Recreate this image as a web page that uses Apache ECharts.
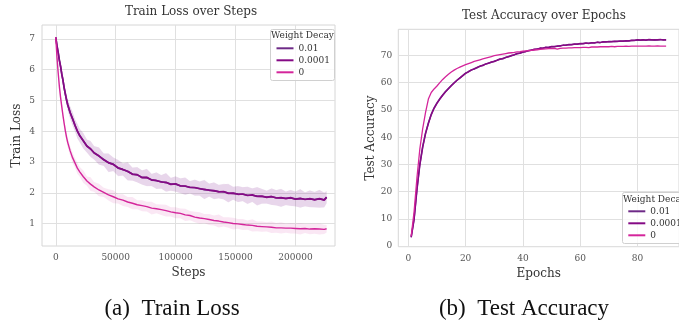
<!DOCTYPE html>
<html><head><meta charset="utf-8">
<script src="https://cdn.jsdelivr.net/npm/echarts@6/dist/echarts.min.js"></script>
<style>html,body{margin:0;padding:0;background:#fff}#c{width:679px;height:325px}</style>
</head><body><div id="c"></div>
<script>
const seriesNames = ['0.01', '0.0001', '0'];
const lossTicks = [0, 50000, 100000, 150000, 200000];
const lossYTicks = [1, 2, 3, 4, 5, 6, 7];
const accTicks = [0, 20, 40, 60, 80];
const accYTicks = [0, 10, 20, 30, 40, 50, 60, 70];

const steps = [0,1000,2000,3000,4000,5000,6000,7000,8000,9000,10000,12000,14000,16000,18000,20000,23000,26000,29000,32000,
36000,40000,44000,48000,52000,56000,60000,64000,68000,72000,76000,80000,84000,88000,92000,96000,100000,104000,108000,112000,
116000,120000,124000,128000,132000,136000,140000,144000,148000,152000,156000,160000,164000,168000,172000,176000,180000,184000,188000,192000,
196000,200000,204000,208000,212000,216000,220000,224000,226000];

const lossWd001 = [7.05,6.78,6.55,6.31,6.10,5.86,5.65,5.41,5.20,5.02,4.85,4.61,4.40,4.20,4.00,3.86,3.68,3.52,3.42,3.30,
3.19,3.08,2.97,2.93,2.80,2.76,2.69,2.61,2.58,2.50,2.49,2.42,2.39,2.36,2.33,2.28,2.28,2.23,2.21,2.18,
2.16,2.14,2.10,2.09,2.06,2.04,2.03,1.99,1.98,1.96,1.95,1.92,1.92,1.89,1.88,1.86,1.87,1.84,1.83,1.82,
1.83,1.80,1.81,1.79,1.80,1.78,1.80,1.77,1.86];
const lossWd00001 = [7.05,6.77,6.56,6.30,6.11,5.85,5.66,5.40,5.21,5.01,4.86,4.60,4.41,4.19,4.01,3.85,3.69,3.51,3.43,3.29,
3.20,3.07,2.98,2.92,2.81,2.75,2.70,2.60,2.59,2.49,2.50,2.41,2.40,2.35,2.34,2.27,2.29,2.22,2.22,2.17,
2.17,2.13,2.11,2.08,2.07,2.03,2.04,1.98,1.99,1.95,1.96,1.91,1.93,1.88,1.89,1.85,1.88,1.83,1.84,1.81,
1.84,1.79,1.82,1.78,1.81,1.77,1.81,1.76,1.85];
const lossWd0 = [7.05,6.40,5.90,5.45,5.10,4.80,4.51,4.25,4.01,3.80,3.63,3.36,3.14,2.97,2.80,2.68,2.52,2.38,2.28,2.19,
2.09,2.01,1.93,1.87,1.80,1.76,1.70,1.66,1.61,1.58,1.55,1.50,1.48,1.45,1.42,1.38,1.35,1.33,1.28,1.26,
1.21,1.18,1.16,1.13,1.10,1.08,1.05,1.03,1.00,0.99,0.97,0.95,0.94,0.91,0.90,0.89,0.88,0.86,0.86,0.85,
0.85,0.84,0.83,0.84,0.82,0.83,0.82,0.81,0.83];
const spreadWd001 = [0.05,0.07,0.09,0.11,0.12,0.13,0.14,0.15,0.16,0.17,0.18,0.20,0.22,0.20,0.24,0.22,0.25,0.21,0.26,0.22,
0.28,0.20,0.30,0.22,0.26,0.20,0.29,0.21,0.25,0.23,0.28,0.20,0.27,0.22,0.30,0.21,0.25,0.24,0.28,0.20,
0.26,0.23,0.31,0.21,0.27,0.22,0.25,0.30,0.21,0.26,0.23,0.28,0.22,0.30,0.24,0.21,0.27,0.25,0.29,0.22,
0.26,0.24,0.30,0.23,0.27,0.25,0.29,0.24,0.20];
const spreadWd0 = [0.04,0.08,0.10,0.12,0.13,0.14,0.14,0.15,0.15,0.15,0.16,0.16,0.17,0.15,0.18,0.16,0.20,0.15,0.22,0.16,
0.20,0.15,0.18,0.21,0.15,0.19,0.16,0.20,0.15,0.18,0.16,0.21,0.15,0.17,0.19,0.15,0.18,0.16,0.20,0.15,
0.17,0.19,0.15,0.18,0.16,0.21,0.15,0.17,0.19,0.16,0.18,0.15,0.20,0.16,0.17,0.15,0.19,0.16,0.18,0.15,
0.17,0.16,0.19,0.15,0.17,0.16,0.18,0.15,0.12];

const epochs = [1,2,3,4,5,6,7,8,9,10,11,12,13,14,15,16,17,18,19,20,21,22,23,24,25,26,27,28,29,30,
31,32,33,34,35,36,37,38,39,40,41,42,43,44,45,46,47,48,49,50,51,52,53,54,55,56,57,58,59,60,
61,62,63,64,65,66,67,68,69,70,71,72,73,74,75,76,77,78,79,80,81,82,83,84,85,86,87,88,89,90];
const accWd001 = [3.4,10.0,21.0,30.0,36.5,41.5,45.2,48.4,50.8,52.6,
54.1,55.5,56.8,57.9,59.0,60.0,60.9,61.8,62.6,63.5,
64.1,64.6,65.1,65.5,66.0,66.4,66.8,67.2,67.5,67.9,
68.3,68.6,68.9,69.2,69.6,69.9,70.3,70.6,70.9,71.2,
71.5,71.7,72.0,72.2,72.4,72.6,72.7,72.9,73.0,73.2,
73.3,73.4,73.6,73.7,73.8,73.9,74.0,74.1,74.2,74.3,
74.4,74.5,74.5,74.6,74.7,74.8,74.8,74.9,75.0,75.0,
75.1,75.1,75.2,75.2,75.3,75.3,75.4,75.5,75.6,75.7,
75.6,75.7,75.7,75.8,75.7,75.8,75.7,75.8,75.8,75.7];
const accWd00001 = [3.2,9.6,20.5,29.6,36.2,41.2,45.0,48.2,50.6,52.4,
54.0,55.4,56.7,57.8,58.9,59.9,60.9,61.7,62.6,63.4,
64.0,64.7,65.0,65.6,66.1,66.3,66.9,67.1,67.6,67.8,
68.2,68.7,68.8,69.3,69.5,70.0,70.2,70.7,70.8,71.3,
71.4,71.8,71.9,72.3,72.3,72.7,72.6,73.0,72.9,73.3,
73.2,73.5,73.5,73.8,73.7,74.0,73.9,74.2,74.1,74.4,
74.3,74.6,74.4,74.7,74.6,74.9,74.7,75.0,74.9,75.1,
75.0,75.2,75.1,75.3,75.2,75.4,75.3,75.6,75.5,75.8,
75.7,75.8,75.6,75.9,75.8,75.7,75.8,75.9,75.7,75.8];
const accWd0 = [3.7,12.5,25.0,35.5,43.0,49.0,54.0,56.4,57.7,58.8,
60.0,61.2,62.2,63.1,63.9,64.6,65.2,65.7,66.2,66.6,
67.0,67.4,67.8,68.1,68.4,68.7,69.0,69.3,69.6,69.9,
70.1,70.3,70.5,70.7,70.9,71.0,71.1,71.3,71.4,71.6,
71.7,71.8,71.9,72.0,72.1,72.2,72.3,72.4,72.5,72.5,
72.6,72.3,72.6,72.7,72.7,72.8,72.8,72.9,72.9,72.9,
73.0,73.0,72.9,73.1,73.1,73.1,73.2,73.2,73.2,73.2,
73.3,73.2,73.3,73.3,73.3,73.4,73.3,73.4,73.4,73.4,
73.4,73.4,73.4,73.5,73.4,73.4,73.5,73.4,73.4,73.4];

const colors = {'0.01': '#6e2a87', '0.0001': '#850a85', '0': '#d4259b'};
const serif = 'DejaVu Serif';
const pairs = (xs, ys) => xs.map((x, i) => [x, ys[i]]);

function band(mean, spread, color) {
  return {
    type: 'custom', xAxisIndex: 0, yAxisIndex: 0, silent: true, clip: true, z: 1,
    data: [[steps[0], mean[0]]],
    renderItem: function (params, api) {
      const pts = [];
      for (let i = 0; i < steps.length; i++) pts.push(api.coord([steps[i], mean[i] + spread[i]]));
      for (let i = steps.length - 1; i >= 0; i--) pts.push(api.coord([steps[i], mean[i] - spread[i]]));
      return {type: 'polygon', shape: {points: pts}, style: {fill: color}};
    }
  };
}
function line(name, xs, ys, xi, w) {
  return {type: 'line', name: name, xAxisIndex: xi, yAxisIndex: xi, symbol: 'none', data: pairs(xs, ys),
    lineStyle: {color: colors[name], width: w}, itemStyle: {color: colors[name]}, z: 2};
}

const axisLabelStyle = {fontFamily: serif, fontSize: 9, color: '#555', formatter: v => String(v)};
const split = {show: true, lineStyle: {color: '#e0e0e0', width: 1}};
const nameStyle = {fontFamily: serif, fontSize: 12, color: '#333'};

const option = {
  animation: false,
  backgroundColor: '#fff',
  grid: [
    {left: 42, top: 25, width: 293, height: 221, show: true, borderColor: '#d6d6d6', borderWidth: 1, backgroundColor: '#fff'},
    {left: 398.3, top: 29.3, width: 292, height: 217.4, show: true, borderColor: '#d6d6d6', borderWidth: 1, backgroundColor: '#fff'}
  ],
  xAxis: [
    {gridIndex: 0, type: 'value', min: -11500, max: 233000, axisLine: {show: false},
     axisTick: {show: false, customValues: lossTicks}, axisLabel: Object.assign({customValues: lossTicks, margin: 7}, axisLabelStyle),
     splitLine: split, name: 'Steps', nameLocation: 'middle', nameGap: 21, nameTextStyle: nameStyle},
    {gridIndex: 1, type: 'value', min: -3.5, max: 94.5, axisLine: {show: false},
     axisTick: {show: false, customValues: accTicks}, axisLabel: Object.assign({customValues: accTicks, margin: 7}, axisLabelStyle),
     splitLine: split, name: 'Epochs', nameLocation: 'middle', nameGap: 21, nameTextStyle: nameStyle}
  ],
  yAxis: [
    {gridIndex: 0, type: 'value', min: 0.27, max: 7.45, axisLine: {show: false},
     axisTick: {show: false, customValues: lossYTicks}, axisLabel: Object.assign({customValues: lossYTicks, margin: 7}, axisLabelStyle),
     splitLine: split, name: 'Train Loss', nameLocation: 'middle', nameGap: 19, nameTextStyle: nameStyle},
    {gridIndex: 1, type: 'value', min: -0.2, max: 79.6, axisLine: {show: false},
     axisTick: {show: false, customValues: accYTicks}, axisLabel: Object.assign({customValues: accYTicks, margin: 6}, axisLabelStyle),
     splitLine: split, name: 'Test Accuracy', nameLocation: 'middle', nameGap: 19, nameTextStyle: nameStyle}
  ],
  legend: [
    {data: seriesNames, orient: 'vertical', left: 276.5, top: 42.3, itemWidth: 17, itemHeight: 2, itemGap: 0, icon: 'rect',
     selectedMode: false, textStyle: {fontFamily: serif, fontSize: 9, color: '#333', lineHeight: 12}, padding: 0, z: 6},
    {data: seriesNames, orient: 'vertical', left: 628.3, top: 205.3, itemWidth: 17, itemHeight: 2, itemGap: 0, icon: 'rect',
     selectedMode: false, textStyle: {fontFamily: serif, fontSize: 9, color: '#333', lineHeight: 12}, padding: 0, z: 6}
  ],
  graphic: [
    {type: 'text', x: 191, y: 12, z: 5, style: {text: 'Train Loss over Steps', fontFamily: serif, fontSize: 12, fill: '#333', align: 'center', verticalAlign: 'middle'}},
    {type: 'text', x: 544, y: 16, z: 5, style: {text: 'Test Accuracy over Epochs', fontFamily: serif, fontSize: 12, fill: '#333', align: 'center', verticalAlign: 'middle'}},
    {type: 'text', x: 172, y: 309, z: 5, style: {text: '(a)  Train Loss', fontFamily: 'Liberation Serif', fontSize: 23, fill: '#111', align: 'center', verticalAlign: 'middle'}},
    {type: 'text', x: 524, y: 309, z: 5, style: {text: '(b)  Test Accuracy', fontFamily: 'Liberation Serif', fontSize: 23, fill: '#111', align: 'center', verticalAlign: 'middle'}},
    {type: 'rect', z: 4, shape: {x: 270.5, y: 29.5, width: 64, height: 51, r: 2}, style: {fill: 'rgba(255,255,255,0.8)', stroke: '#d0d0d0', lineWidth: 1}},
    {type: 'text', x: 302.5, y: 36, z: 5, style: {text: 'Weight Decay', fontFamily: serif, fontSize: 9, fill: '#333', align: 'center', verticalAlign: 'middle'}},
    {type: 'rect', z: 4, shape: {x: 622.5, y: 192.5, width: 64, height: 51, r: 2}, style: {fill: 'rgba(255,255,255,0.8)', stroke: '#d0d0d0', lineWidth: 1}},
    {type: 'text', x: 654.5, y: 199.3, z: 5, style: {text: 'Weight Decay', fontFamily: serif, fontSize: 9, fill: '#333', align: 'center', verticalAlign: 'middle'}}
  ],
  series: [
    band(lossWd001, spreadWd001, 'rgba(120,50,150,0.11)'),
    band(lossWd00001, spreadWd001, 'rgba(135,15,135,0.08)'),
    band(lossWd0, spreadWd0, 'rgba(212,37,155,0.11)'),
    line('0.01', steps, lossWd001, 0, 1.6),
    line('0.0001', steps, lossWd00001, 0, 1.7),
    line('0', steps, lossWd0, 0, 1.4),
    line('0.01', epochs, accWd001, 1, 1.5),
    line('0.0001', epochs, accWd00001, 1, 1.5),
    line('0', epochs, accWd0, 1, 1.3)
  ]
};
const chart = echarts.init(document.getElementById('c'), null, {renderer: 'canvas'});
chart.setOption(option);
</script></body></html>
